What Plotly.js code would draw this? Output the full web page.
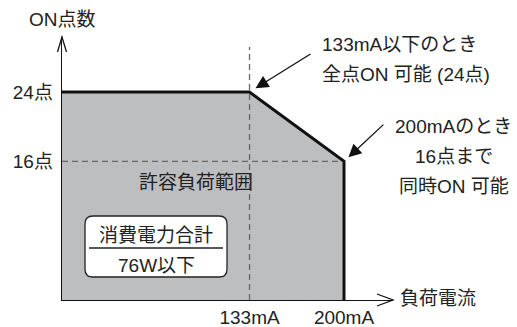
<!DOCTYPE html>
<html>
<head>
<meta charset="utf-8">
<script src="https://cdn.plot.ly/plotly-3.0.1.min.js"></script>
<style>
html, body { margin: 0; padding: 0; background: #fff; }
#plot { width: 517px; height: 327px; }
</style>
</head>
<body>
<div id="plot"></div>
<script>
// load range: ON points vs load current (mA)
let currentMA = [0, 133, 200, 200];
let onPoints = [24, 24, 16, 0];
let tickCurrents = [133, 200];
let tickCurrentLabels = ["133mA", "200mA"];
let tickPoints = [16, 24];
let tickPointLabels = ["16点", "24点"];

const FONT = "Liberation Sans, Noto Sans CJK JP, sans-serif";

// gray area under the limit line
let area = {
    x: currentMA.concat([0]),
    y: onPoints.concat([0]),
    type: "scatter",
    mode: "lines",
    fill: "toself",
    fillcolor: "#bdbec0",
    line: {width: 0},
    hoverinfo: "skip"
};

// dashed guides at 133mA and 16 points
let vGuide = {
    x: [tickCurrents[0], tickCurrents[0]],
    y: [0, 29.2],
    type: "scatter",
    mode: "lines",
    line: {color: "#666", width: 1.3, dash: "6px,4px"}
};

let hGuide = {
    x: [0, tickCurrents[1]],
    y: [tickPoints[0], tickPoints[0]],
    type: "scatter",
    mode: "lines",
    line: {color: "#666", width: 1.3, dash: "6px,4px"}
};

// limit line
let limit = {
    x: currentMA,
    y: onPoints,
    type: "scatter",
    mode: "lines",
    line: {color: "#111", width: 3}
};

let data = [area, vGuide, hGuide, limit];

let txt = (text, x, y, xanchor) => ({
    text: text, x: x, y: y, xref: "paper", yref: "paper",
    xanchor: xanchor || "center", yanchor: "middle", showarrow: false,
    font: {size: 19, color: "#222", family: FONT}
});

let layout = {
    width: 517,
    height: 327,
    margin: {l: 62, r: 124, t: 37, b: 27},
    paper_bgcolor: "#fff",
    plot_bgcolor: "rgba(0,0,0,0)",
    showlegend: false,
    font: {family: FONT, size: 19, color: "#222"},
    xaxis: {
        range: [0, 234.75],
        showgrid: false,
        zeroline: false,
        showline: true,
        linecolor: "#111",
        linewidth: 1.3,
        ticks: "",
        tickvals: tickCurrents,
        ticktext: tickCurrentLabels,
        tickfont: {size: 19, color: "#222"}
    },
    yaxis: {
        range: [0, 30.35],
        showgrid: false,
        zeroline: false,
        showline: true,
        linecolor: "#111",
        linewidth: 1.3,
        ticks: "",
        ticklabelstandoff: 4,
        tickvals: tickPoints,
        ticktext: tickPointLabels,
        tickfont: {size: 19, color: "#222"}
    },
    shapes: [
        // axis arrow heads
        {type: "path", xref: "paper", yref: "paper",
         path: "M 0.9517,0.0228 L 1,0 L 0.9517,-0.0228",
         line: {color: "#111", width: 1.3}},
        {type: "path", xref: "paper", yref: "paper",
         path: "M -0.0136,0.943 L 0,1 L 0.0136,0.943",
         line: {color: "#111", width: 1.3}},
        // rounded box
        {type: "path", xref: "paper", yref: "paper",
         path: "M 0.0937,0.3194 L 0.4743,0.3194 Q 0.4985,0.3194 0.4985,0.289 L 0.4985,0.118 Q 0.4985,0.0875 0.4743,0.0875 L 0.0937,0.0875 Q 0.0695,0.0875 0.0695,0.118 L 0.0695,0.289 Q 0.0695,0.3194 0.0937,0.3194 Z",
         fillcolor: "#fff",
         line: {color: "#222", width: 1.3}},
        {type: "line", xref: "paper", yref: "paper",
         x0: 0.0816, x1: 0.4864, y0: 0.1977, y1: 0.1977,
         line: {color: "#222", width: 1.3}}
    ],
    annotations: [
        txt("ON点数", 0, 1.065),
        txt("負荷電流", 1.015, 0.004, "left"),
        txt("許容負荷範囲", 0.405, 0.445),
        txt("消費電力合計", 0.284, 0.247),
        txt("76W以下", 0.284, 0.133),
        txt("133mA以下のとき", 0.779, 0.970, "left"),
        txt("全点ON 可能 (24点)", 0.779, 0.856, "left"),
        txt("200mAのとき", 1.184, 0.658),
        txt("16点まで", 1.184, 0.544),
        txt("同時ON 可能", 1.184, 0.433),
        {x: 133, y: 24, ax: 177.3, ay: 28.5, axref: "x", ayref: "y",
         text: "", showarrow: true, arrowhead: 2, arrowsize: 2, arrowwidth: 1.3,
         arrowcolor: "#111", standoff: 7},
        {x: 200, y: 16, ax: 229, ay: 20.4, axref: "x", ayref: "y",
         text: "", showarrow: true, arrowhead: 2, arrowsize: 2, arrowwidth: 1.3,
         arrowcolor: "#111", standoff: 6}
    ]
};

Plotly.newPlot("plot", data, layout, {displayModeBar: false, staticPlot: true});
</script>
</body>
</html>
